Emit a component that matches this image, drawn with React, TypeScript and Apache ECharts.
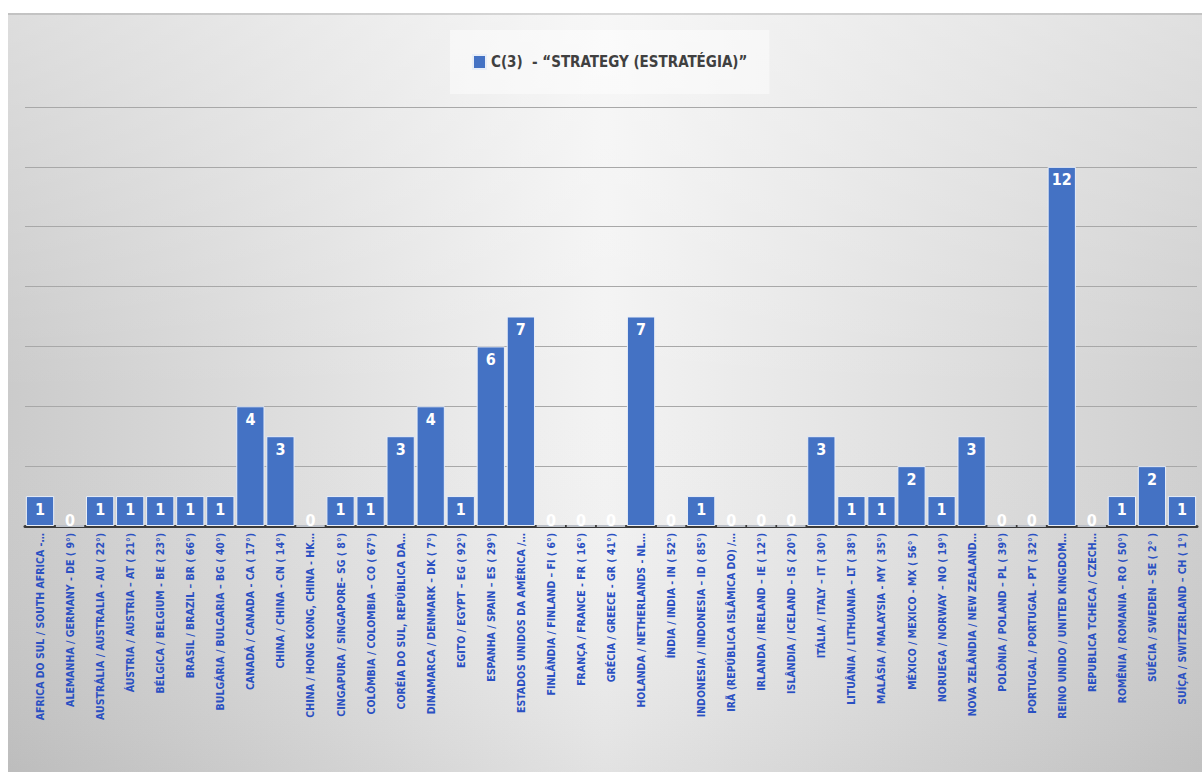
import React, { useEffect, useRef } from "react";
import * as echarts from "echarts";

const categories: string[] = [
  "AFRICA DO SUL / SOUTH AFRICA -…",
  "ALEMANHA / GERMANY - DE ( 9°)",
  "AUSTRÁLIA / AUSTRALIA - AU ( 22°)",
  "ÁUSTRIA / AUSTRIA – AT ( 21°)",
  "BÉLGICA / BELGIUM - BE ( 23°)",
  "BRASIL / BRAZIL – BR ( 66°)",
  "BULGÁRIA / BULGARIA – BG ( 40°)",
  "CANADÁ / CANADA - CA ( 17°)",
  "CHINA / CHINA - CN ( 14°)",
  "CHINA / HONG KONG, CHINA - HK…",
  "CINGAPURA / SINGAPORE– SG ( 8°)",
  "COLÔMBIA / COLOMBIA – CO ( 67°)",
  "CORÉIA DO SUL, REPÚBLICA DA…",
  "DINAMARCA / DENMARK – DK ( 7°)",
  "EGITO / EGYPT – EG ( 92°)",
  "ESPANHA / SPAIN – ES ( 29°)",
  "ESTADOS UNIDOS DA AMÉRICA /…",
  "FINLÂNDIA / FINLAND – FI ( 6°)",
  "FRANÇA / FRANCE - FR ( 16°)",
  "GRÉCIA / GREECE - GR ( 41°)",
  "HOLANDA / NETHERLANDS - NL…",
  "ÍNDIA / INDIA - IN ( 52°)",
  "INDONESIA / INDONESIA – ID ( 85°)",
  "IRÃ (REPÚBLICA ISLÂMICA DO) /…",
  "IRLANDA / IRELAND – IE ( 12°)",
  "ISLÂNDIA / ICELAND – IS ( 20°)",
  "ITÁLIA / ITALY – IT ( 30°)",
  "LITUÂNIA / LITHUANIA – LT ( 38°)",
  "MALÁSIA / MALAYSIA - MY ( 35°)",
  "MÉXICO / MEXICO - MX ( 56° )",
  "NORUEGA / NORWAY – NO ( 19°)",
  "NOVA ZELÂNDIA / NEW ZEALAND…",
  "POLÔNIA / POLAND – PL ( 39°)",
  "PORTUGAL / PORTUGAL - PT ( 32°)",
  "REINO UNIDO / UNITED KINGDOM…",
  "REPUBLICA TCHECA / CZECH…",
  "ROMÊNIA / ROMANIA – RO ( 50°)",
  "SUÉCIA / SWEDEN – SE ( 2° )",
  "SUÍÇA / SWITZERLAND – CH ( 1°)",
];

const strategyValues: number[] = [
  1, 0, 1, 1, 1, 1, 1, 4, 3, 0, 1, 1, 3, 4, 1, 6, 7, 0, 0, 0, 7, 0, 1, 0, 0, 0,
  3, 1, 1, 2, 1, 3, 0, 0, 12, 0, 1, 2, 1,
];

const seriesName = "C(3)  - “STRATEGY (ESTRATÉGIA)”";
const yMin = 0;
const yMax = 14;
const yInterval = 2;

const FONT = "'Liberation Sans Narrow', 'DejaVu Sans Condensed', 'Open Sans', sans-serif";

export default function App() {
  const ref = useRef<HTMLDivElement>(null);

  useEffect(() => {
    document.body.style.margin = "0";
    const chart = echarts.init(ref.current!, null, { renderer: "svg" });
    chart.setOption({
      animation: false,
      backgroundColor: {
        type: "linear",
        x: 0,
        y: 0,
        x2: 1,
        y2: 0,
        colorStops: [
          { offset: 0, color: "#cbcbcb" },
          { offset: 0.5, color: "#f3f3f3" },
          { offset: 1, color: "#cfcfcf" },
        ],
      },
      graphic: [
        {
          type: "rect",
          z: -10,
          silent: true,
          shape: { x: 0, y: 0, width: 1194, height: 759 },
          style: {
            fill: {
              type: "linear",
              x: 0,
              y: 0,
              x2: 0,
              y2: 1,
              colorStops: [
                { offset: 0, color: "rgba(255,255,255,0.35)" },
                { offset: 0.5, color: "rgba(255,255,255,0)" },
                { offset: 1, color: "rgba(0,0,0,0.07)" },
              ],
            },
          },
        },
        {
          type: "rect",
          z: -5,
          silent: true,
          shape: { x: 0, y: 0, width: 1194, height: 2 },
          style: { fill: "rgba(0,0,0,0.12)" },
        },
      ],
      legend: {
        top: 17,
        left: 442,
        padding: [24, 22, 24, 22],
        backgroundColor: "rgba(255,255,255,0.45)",
        itemWidth: 13,
        itemHeight: 14,
        itemGap: 10,
        icon: "rect",
        textStyle: {
          fontFamily: FONT,
          fontSize: 15,
          fontWeight: "bold",
          color: "#404040",
        },
        data: [seriesName],
      },
      grid: {
        left: 17,
        right: 5,
        top: 94,
        bottom: 246,
        containLabel: false,
      },
      xAxis: {
        type: "category",
        data: categories,
        axisLine: { show: true, lineStyle: { color: "#3a3a3a", width: 3 } },
        axisTick: { show: false },
        axisLabel: {
          interval: 0,
          rotate: 90,
          margin: 7,
          fontFamily: FONT,
          fontSize: 10.5,
          fontWeight: "bold",
          color: "#2a50c2",
        },
      },
      yAxis: {
        type: "value",
        min: yMin,
        max: yMax,
        interval: yInterval,
        axisLabel: { show: false },
        axisLine: { show: false },
        axisTick: { show: false },
        splitLine: { show: true, lineStyle: { color: "#a8a8a8", width: 1 } },
      },
      series: [
        {
          name: seriesName,
          type: "bar",
          barCategoryGap: "6%",
          data: strategyValues.map((v) =>
            v === 0
              ? { value: v, label: { position: "top", distance: -3 } }
              : v
          ),
          itemStyle: {
            color: "#4472c4",
            borderColor: "#e8eef8",
            borderWidth: 1,
          },
          label: {
            show: true,
            position: "insideTop",
            distance: 5,
            color: "#ffffff",
            fontFamily: FONT,
            fontSize: 16,
            fontWeight: "bold",
          },
        },
      ],
    });
    return () => chart.dispose();
  }, []);

  return (
    <div
      ref={ref}
      style={{ position: "fixed", left: 8, top: 13, width: 1194, height: 759 }}
    />
  );
}
